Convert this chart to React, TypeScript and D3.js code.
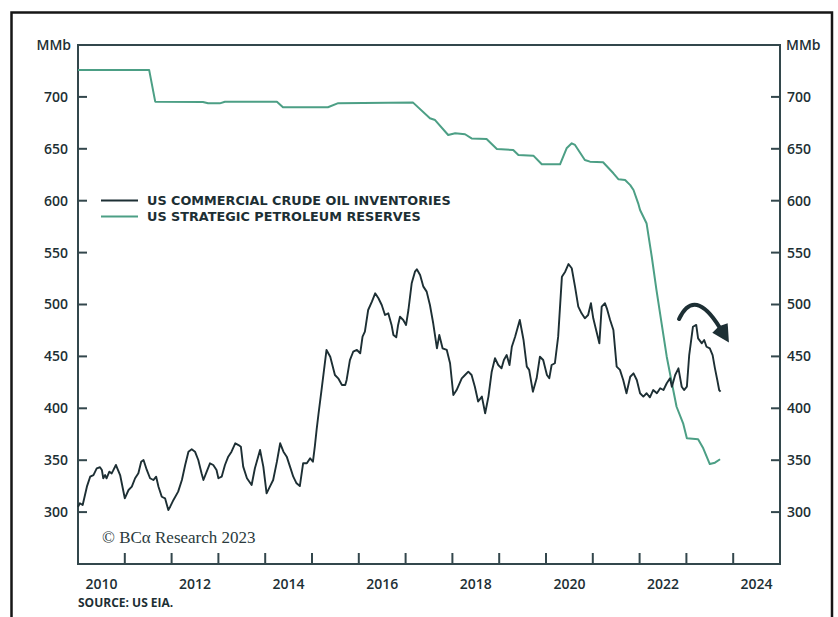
import React from 'react';
import * as d3 from 'd3';

// ---------- data ----------
const crudeDates = [
  2010.0, 2010.04, 2010.1, 2010.19, 2010.26, 2010.33, 2010.4, 2010.47, 2010.51, 2010.54, 2010.58, 2010.61, 2010.67, 2010.72, 2010.75, 2010.81, 2010.84, 2010.9,
  2011.0, 2011.08, 2011.15, 2011.22, 2011.29, 2011.35, 2011.4, 2011.47, 2011.54, 2011.61, 2011.67, 2011.72, 2011.79, 2011.86, 2011.93, 2011.97,
  2012.04, 2012.14, 2012.22, 2012.29, 2012.36, 2012.43, 2012.5, 2012.57, 2012.64, 2012.68, 2012.75, 2012.82, 2012.89, 2012.96,
  2013.0, 2013.07, 2013.14, 2013.21, 2013.28, 2013.36, 2013.43, 2013.48, 2013.53, 2013.61, 2013.71, 2013.78, 2013.89, 2013.96,
  2014.03, 2014.1, 2014.17, 2014.25, 2014.32, 2014.39, 2014.46, 2014.53, 2014.6, 2014.67, 2014.74, 2014.81, 2014.89, 2014.96,
  2015.02, 2015.06, 2015.1, 2015.14, 2015.21, 2015.31, 2015.39, 2015.49, 2015.56, 2015.64, 2015.71, 2015.74, 2015.81, 2015.88, 2015.96,
  2016.03, 2016.08, 2016.13, 2016.2, 2016.28, 2016.35, 2016.42, 2016.49, 2016.56, 2016.63, 2016.7, 2016.74, 2016.8, 2016.84, 2016.88, 2016.95,
  2017.01, 2017.06, 2017.13, 2017.2, 2017.24, 2017.31, 2017.38, 2017.45, 2017.52, 2017.59, 2017.67, 2017.72, 2017.79, 2017.88, 2017.95,
  2018.02, 2018.09, 2018.2, 2018.27, 2018.34, 2018.41, 2018.48, 2018.55, 2018.63, 2018.7, 2018.77, 2018.84, 2018.91, 2018.98,
  2019.05, 2019.1, 2019.16, 2019.22, 2019.27, 2019.34, 2019.44, 2019.52, 2019.59, 2019.64, 2019.72, 2019.8, 2019.87, 2019.94,
  2020.02, 2020.07, 2020.12, 2020.19, 2020.26, 2020.34, 2020.41, 2020.48, 2020.55, 2020.62, 2020.69, 2020.76, 2020.83, 2020.9, 2020.96,
  2021.01, 2021.08, 2021.14, 2021.19, 2021.26, 2021.3, 2021.37, 2021.44, 2021.51, 2021.58, 2021.65, 2021.72, 2021.8, 2021.87, 2021.94,
  2022.01, 2022.08, 2022.15, 2022.22, 2022.29, 2022.37, 2022.44, 2022.51, 2022.58, 2022.65, 2022.69, 2022.76, 2022.83, 2022.9, 2022.95,
  2023.01, 2023.06, 2023.14, 2023.21, 2023.25, 2023.33, 2023.38, 2023.43, 2023.5, 2023.56, 2023.61, 2023.66, 2023.7, 2023.73,
];
const crudeValues = [
  305, 308.5, 306.8, 324.5, 334.1, 335.7, 342.2, 343.2, 340.6, 332.6, 335.7, 332.6, 338.9, 337.3, 339.9, 345.4, 342.2, 335.7,
  313.3, 321.3, 324.5, 332.6, 337.4, 348.6, 350.2, 340.6, 332.6, 330.9, 334.1, 324.5, 314.8, 313.3, 302, 305.2,
  311.7, 319.7, 330.9, 345.4, 358.2, 360.5, 358.2, 350.2, 337.4, 330.9, 338.9, 347, 345.4, 340.6,
  332.6, 334.1, 345.4, 353.4, 358.2, 366.3, 364.6, 363, 343.8, 332.6, 326.1, 342.2, 359.8, 343.8,
  318.1, 324.5, 330.9, 348.6, 366.3, 358.2, 353.4, 343.8, 334.1, 327.7, 325.1, 347, 347, 351.8,
  348.6, 363, 380, 395, 420, 456.2, 449.7, 432.1, 428.9, 422.4, 422.4, 427.3, 446.5, 454.5, 456.2,
  453, 469, 473.8, 494.7, 502.7, 510.8, 506, 499.5, 489.9, 491.5, 480.3, 470.6, 468.4, 480.3, 488.2, 485.1,
  480.3, 494.7, 520.4, 531.6, 533.9, 528.4, 517.2, 512.4, 499.5, 481.9, 457.8, 470.6, 457.8, 456.2, 443.4,
  412.8, 417.6, 428.9, 432.1, 435.3, 432.1, 420.8, 406.5, 411.3, 395.2, 411.3, 435.3, 448.2, 441.7,
  438.5, 446.5, 451.3, 441.7, 459.3, 469, 485.1, 465.8, 440.1, 437, 416, 428.9, 449.7, 446.5,
  432.1, 428.9, 441.7, 443.4, 469, 526.8, 531.6, 539, 534.9, 517.2, 497.9, 491.5, 486.7, 489.9, 501.2,
  486.7, 473.8, 462.6, 497.9, 501.2, 496.3, 485.1, 475.4, 440.1, 437, 427.3, 414.5, 430.4, 433.7, 427.3,
  414.5, 411.3, 414.5, 410.6, 417.6, 414.5, 419.3, 417.6, 424.1, 428.9, 420.8, 432.1, 438.5, 420.8, 417.6,
  420.8, 451.3, 478.6, 480.3, 467.4, 462.6, 465.8, 459.3, 457.7, 451.3, 438.5, 427.3, 417.6, 416,
];

const sprDates = [
  2010.0, 2011.52, 2011.65, 2012.67, 2012.78, 2013.03, 2013.14, 2014.25, 2014.38, 2015.34, 2015.56, 2017.16,
  2017.52, 2017.63, 2017.91, 2018.06, 2018.27, 2018.41, 2018.73, 2018.95, 2019.3, 2019.41, 2019.73, 2019.91,
  2020.3, 2020.44, 2020.55, 2020.62, 2020.83, 2020.94, 2021.22, 2021.44, 2021.55, 2021.69, 2021.8, 2021.87,
  2021.97, 2022.01, 2022.15, 2022.26, 2022.36, 2022.47, 2022.58, 2022.69, 2022.79, 2022.93, 2023.01, 2023.25,
  2023.36, 2023.5, 2023.61, 2023.72,
];
const sprValues = [
  726, 726, 695.4, 695, 693.8, 693.8, 695.3, 695.3, 690, 690, 694, 694.5,
  679.4, 677.7, 663.3, 664.9, 664, 660, 659.4, 649.8, 648.8, 644, 643.4, 635.1,
  635, 650.5, 655.3, 653.7, 639.2, 637.6, 637, 626.4, 620.6, 620, 615, 610.3,
  597.5, 591, 578, 546, 514, 481.9, 449.7, 424.1, 401.5, 385.5, 371.1, 370.1,
  361.5, 346.3, 347.6, 350.9,
];

const yTicks = [300, 350, 400, 450, 500, 550, 600, 650, 700];
const xTickYears = [2011, 2012, 2013, 2014, 2015, 2016, 2017, 2018, 2019, 2020, 2021, 2022, 2023, 2024];
const xLabelYears = [2010, 2012, 2014, 2016, 2018, 2020, 2022, 2024];
const seriesNames = ['US COMMERCIAL CRUDE OIL INVENTORIES', 'US STRATEGIC PETROLEUM RESERVES'];
const unitLabel = 'MMb';
const sourceText = 'SOURCE: US EIA.';
const copyrightText = '\u00A9 BC\u03B1 Research 2023';
// annotation arrow (start, peak, end) in data coordinates
const arrowDates = [2022.842, 2023.226, 2023.718];
const arrowValues = [486, 499.5, 477.4];

// ---------- styling ----------
const W = 838;
const H = 617;
const M = { left: 78, right: 780, top: 45, bottom: 564 };
const DARK = '#1d2f34';
const GREEN = '#4c9f85';
const AXIS = '#33474c';
const FONT = "'Open Sans', 'Noto Sans', sans-serif";
const LEGEND_FONT = "'DejaVu Sans', 'Open Sans', sans-serif";

export default function App() {
  const x = d3.scaleLinear().domain([2010, 2025]).range([M.left, M.right]);
  const y = d3.scaleLinear().domain([250, 750]).range([M.bottom, M.top]);

  const crude = crudeDates.map((d, i) => [d, crudeValues[i]] as [number, number]);
  const spr = sprDates.map((d, i) => [d, sprValues[i]] as [number, number]);
  const line = d3
    .line<[number, number]>()
    .x((d) => x(d[0]))
    .y((d) => y(d[1]));

  // arrow
  const P0 = [x(arrowDates[0]), y(arrowValues[0])];
  const PK = [x(arrowDates[1]), y(arrowValues[1])];
  const P2 = [x(arrowDates[2]), y(arrowValues[2])];
  const C = [2 * PK[0] - 0.5 * (P0[0] + P2[0]), 2 * PK[1] - 0.5 * (P0[1] + P2[1])];
  const ap = d3.path();
  ap.moveTo(P0[0], P0[1]);
  ap.quadraticCurveTo(C[0], C[1], P2[0], P2[1]);
  const dx = P2[0] - C[0];
  const dy = P2[1] - C[1];
  const len = Math.hypot(dx, dy);
  const ux = dx / len;
  const uy = dy / len;
  const headLen = 17;
  const headHalf = 9;
  const tip = [P2[0] + ux * headLen, P2[1] + uy * headLen];
  const b1 = [P2[0] - uy * headHalf, P2[1] + ux * headHalf];
  const b2 = [P2[0] + uy * headHalf, P2[1] - ux * headHalf];
  const back = [P2[0] - ux * 2, P2[1] - uy * 2];

  return (
    <svg
      width={W}
      height={H}
      style={{ position: 'absolute', left: 0, top: 0, background: '#fff' }}
      fontFamily={FONT}
    >
      <rect x={0} y={0} width={W} height={H} fill="#fff" />
      {/* outer frame */}
      <rect x={11.5} y={12.5} width={820.5} height={640} fill="none" stroke="#161616" strokeWidth={2.5} />

      {/* plot frame */}
      <line x1={M.left} x2={M.right} y1={M.top} y2={M.top} stroke={AXIS} strokeWidth={2} />
      <line x1={M.left} x2={M.right} y1={M.bottom} y2={M.bottom} stroke={AXIS} strokeWidth={2} />
      <line x1={M.left} x2={M.left} y1={M.top - 1} y2={M.bottom + 1} stroke={AXIS} strokeWidth={2} />
      <line x1={M.right} x2={M.right} y1={M.top - 1} y2={M.bottom + 1} stroke={AXIS} strokeWidth={2} />

      {/* y ticks + labels */}
      {yTicks.map((t) => (
        <g key={t}>
          <line x1={M.left} x2={M.left + 9} y1={y(t)} y2={y(t)} stroke={AXIS} strokeWidth={2} />
          <line x1={M.right - 9} x2={M.right} y1={y(t)} y2={y(t)} stroke={AXIS} strokeWidth={2} />
          <text x={68} y={y(t)} dy="0.35em" textAnchor="end" fontSize={14} fontWeight={600} fill={DARK}>
            {t}
          </text>
          <text x={787} y={y(t)} dy="0.35em" textAnchor="start" fontSize={14} fontWeight={600} fill={DARK}>
            {t}
          </text>
        </g>
      ))}
      <text x={71} y={M.top} dy="0.35em" textAnchor="end" fontSize={14} fontWeight={600} fill={DARK}>
        {unitLabel}
      </text>
      <text x={786} y={M.top} dy="0.35em" textAnchor="start" fontSize={14} fontWeight={600} fill={DARK}>
        {unitLabel}
      </text>

      {/* x ticks + labels */}
      {xTickYears.map((t) => (
        <line key={t} x1={x(t)} x2={x(t)} y1={M.bottom} y2={M.bottom - 11} stroke={AXIS} strokeWidth={2} />
      ))}
      {xLabelYears.map((t) => (
        <text key={t} x={x(t + 0.5)} y={589} textAnchor="middle" fontSize={14} fontWeight={600} fill={DARK}>
          {t}
        </text>
      ))}

      {/* series */}
      <path d={line(spr) || ''} fill="none" stroke={GREEN} strokeWidth={2} strokeLinejoin="round" />
      <path d={line(crude) || ''} fill="none" stroke={DARK} strokeWidth={1.9} strokeLinejoin="round" />

      {/* arrow annotation */}
      <path d={ap.toString()} fill="none" stroke={DARK} strokeWidth={4} strokeLinecap="round" />
      <path
        d={`M${b1[0]},${b1[1]}L${tip[0]},${tip[1]}L${b2[0]},${b2[1]}L${back[0]},${back[1]}Z`}
        fill={DARK}
      />

      {/* legend */}
      <line x1={101} x2={138} y1={200.5} y2={200.5} stroke={DARK} strokeWidth={2} />
      <line x1={101} x2={138} y1={216.5} y2={216.5} stroke={GREEN} strokeWidth={2} />
      <text x={147} y={200.5} dy="0.36em" fontSize={12.8} fontWeight={700} fontFamily={LEGEND_FONT} fill={DARK}>
        {seriesNames[0]}
      </text>
      <text x={147} y={216.5} dy="0.36em" fontSize={12.8} fontWeight={700} fontFamily={LEGEND_FONT} fill={DARK}>
        {seriesNames[1]}
      </text>

      {/* copyright */}
      <text x={102} y={543} fontSize={17} fontFamily="'Liberation Serif', 'DejaVu Serif', serif" fill="#2a3a3d">
        {copyrightText}
      </text>

      {/* source */}
      <text x={78} y={607} fontSize={12} fontWeight={700} fill={DARK}>
        {sourceText}
      </text>
    </svg>
  );
}
